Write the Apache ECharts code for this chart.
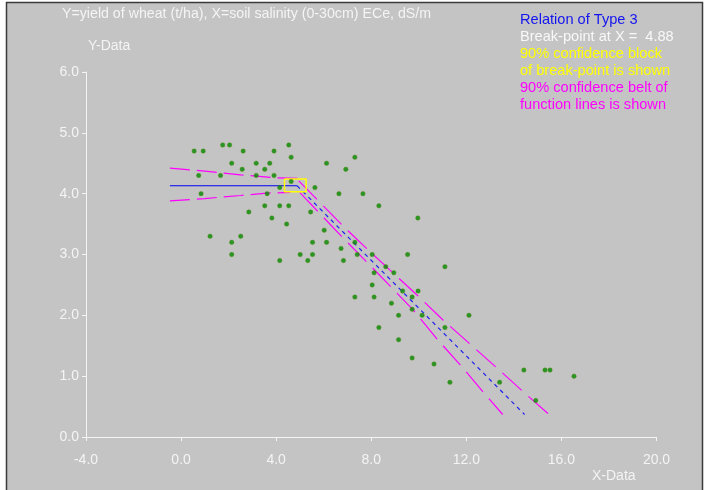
<!DOCTYPE html>
<html>
<head>
<meta charset="utf-8">
<script src="https://cdn.jsdelivr.net/npm/echarts@6/dist/echarts.min.js"></script>
<style>
  html, body { margin: 0; padding: 0; background: #ffffff; }
  #chart { width: 705px; height: 490px; }
</style>
</head>
<body>
<div id="chart"></div>
<script>
// ---- data ----
const xTicks = [-4, 0, 4, 8, 12, 16, 20];
const yTicks = [0, 1, 2, 3, 4, 5, 6];

const obsX = [0.55, 0.93, 1.75, 2.04, 2.61, 3.91, 4.53, 4.63, 2.13, 3.16, 3.73, 2.57, 3.52, 0.74, 1.66, 3.16, 3.91, 4.63, 4.15, 0.84,
              3.62, 5.63, 3.52, 4.15, 4.53, 5.45, 2.85, 3.82, 4.44, 1.22, 2.51, 2.13, 5.53, 2.13, 5.01, 5.53, 4.15, 5.33,
              7.31, 6.12, 6.93, 6.64, 7.65, 8.32, 9.96, 6.02, 6.12, 7.31, 6.73, 7.41, 8.04, 9.53, 6.83, 11.10, 8.61, 8.12,
              8.95, 8.04, 9.97, 9.32, 7.31, 8.12, 9.72, 8.85, 9.72, 9.15, 10.14, 8.32, 11.10, 9.15, 9.72, 10.64, 11.31, 12.11,
              14.42, 15.31, 15.52, 16.53, 13.40, 14.92];
const obsY = [4.7, 4.7, 4.8, 4.8, 4.7, 4.7, 4.8, 4.6, 4.5, 4.5, 4.5, 4.4, 4.4, 4.3, 4.3, 4.3, 4.3, 4.2, 4.1, 4.0,
              4.0, 4.1, 3.8, 3.8, 3.8, 3.7, 3.7, 3.6, 3.5, 3.3, 3.3, 3.2, 3.2, 3.0, 3.0, 3.0, 2.9, 2.9,
              4.6, 4.5, 4.4, 4.0, 4.0, 3.8, 3.6, 3.4, 3.2, 3.2, 3.1, 3.0, 3.0, 3.0, 2.9, 2.8, 2.8, 2.7,
              2.7, 2.5, 2.4, 2.4, 2.3, 2.3, 2.3, 2.2, 2.1, 2.0, 2.0, 1.8, 1.8, 1.6, 1.3, 1.2, 0.9, 2.0,
              1.1, 1.1, 1.1, 1.0, 0.9, 0.6];

// fitted relation (type 3): horizontal then declining
const breakX = 4.88;
const flatX = [-0.47, 4.88];
const flatY = [4.13, 4.13];
const slopeX = [4.88, 14.45];
const slopeY = [4.13, 0.37];

// 90% confidence block of break-point
const blockX = [4.35, 5.26, 5.26, 4.35, 4.35];
const blockY = [4.24, 4.24, 4.03, 4.03, 4.24];

// 90% confidence belt
const upperFlatX = [-0.47, 1.0, 2.5, 4.0, 5.2];
const upperFlatY = [4.42, 4.37, 4.31, 4.26, 4.25];
const lowerFlatX = [-0.47, 1.0, 2.5, 3.6, 4.6];
const lowerFlatY = [3.88, 3.92, 3.97, 4.01, 4.02];
const upperSlopeX = [4.95, 6.86, 8.02, 9.88, 11.03, 12.18, 13.30, 14.49, 15.45];
const upperSlopeY = [4.21, 3.45, 3.02, 2.35, 1.92, 1.52, 1.13, 0.71, 0.38];
const lowerSlopeX = [4.99, 6.82, 7.98, 9.76, 10.77, 11.80, 12.75, 13.53];
const lowerSlopeY = [4.02, 3.27, 2.81, 2.09, 1.61, 1.16, 0.72, 0.37];

const titleText = 'Y=yield of wheat (t/ha), X=soil salinity (0-30cm) ECe, dS/m';
const legendLines = [
  ['Relation of Type 3', '#1414f0'],
  ['Break-point at X =  ' + breakX.toFixed(2), '#f8f8f8'],
  ['90% confidence block', '#ffff00'],
  ['of break-point is shown', '#ffff00'],
  ['90% confidence belt of', '#ff00ff'],
  ['function lines is shown', '#ff00ff']
];

// ---- build ----
const zip = (xs, ys) => xs.map((x, i) => [x, ys[i]]);
const FONT = '"Liberation Sans", Arial, sans-serif';
const chart = echarts.init(document.getElementById('chart'), null, { renderer: 'canvas' });

const belt = (name, xs, ys, dash) => ({
  name, type: 'line', data: zip(xs, ys), showSymbol: false, symbol: 'none', silent: true,
  lineStyle: { color: '#ff00ff', width: 1.2, type: dash }, z: 3, animation: false
});

const graphics = [
  { type: 'rect', z: -10, silent: true, shape: { x: 6.5, y: 2.5, width: 696, height: 500 },
    style: { fill: '#c4c4c4', stroke: '#3a3a3a', lineWidth: 1.5 } },
  { type: 'text', left: 62, top: 7, silent: true,
    style: { text: titleText, fill: '#f4f4f4', font: '14.2px ' + FONT } },
  { type: 'text', left: 88, top: 39, silent: true,
    style: { text: 'Y-Data', fill: '#f4f4f4', font: '14px ' + FONT } },
  { type: 'text', left: 592, top: 469, silent: true,
    style: { text: 'X-Data', fill: '#f4f4f4', font: '14px ' + FONT } }
];
legendLines.forEach((l, i) => {
  graphics.push({ type: 'text', left: 520, top: 12 + i * 17, silent: true,
    style: { text: l[0], fill: l[1], font: '14.6px ' + FONT } });
});

const option = {
  backgroundColor: '#ffffff',
  animation: false,
  grid: { left: 86, right: 48.5, top: 72, bottom: 53, containLabel: false },
  xAxis: {
    type: 'value', min: xTicks[0], max: xTicks[xTicks.length - 1], interval: 4,
    axisLine: { show: true, onZero: false, lineStyle: { color: '#f4f4f4', width: 1 } },
    axisTick: { show: true, length: 4, inside: false, lineStyle: { color: '#f4f4f4' } },
    splitLine: { show: false },
    axisLabel: { color: '#f4f4f4', fontSize: 14, fontFamily: FONT, margin: 16,
      formatter: v => v.toFixed(1) }
  },
  yAxis: {
    type: 'value', min: yTicks[0], max: yTicks[yTicks.length - 1], interval: 1,
    axisLine: { show: true, onZero: false, lineStyle: { color: '#f4f4f4', width: 1 } },
    axisTick: { show: true, length: 4, inside: false, lineStyle: { color: '#f4f4f4' } },
    splitLine: { show: false },
    axisLabel: { color: '#f4f4f4', fontSize: 14, fontFamily: FONT, margin: 7,
      formatter: v => v.toFixed(1) }
  },
  graphic: graphics,
  series: [
    belt('upperFlat', upperFlatX, upperFlatY, [20, 7]),
    belt('lowerFlat', lowerFlatX, lowerFlatY, [20, 7]),
    belt('upperSlope', upperSlopeX, upperSlopeY, [26, 9]),
    belt('lowerSlope', lowerSlopeX, lowerSlopeY, [26, 9]),
    { name: 'flat', type: 'line', data: zip(flatX, flatY), showSymbol: false, symbol: 'none', silent: true,
      lineStyle: { color: '#0000f0', width: 1.2 }, z: 4 },
    { name: 'slope', type: 'line', data: zip(slopeX, slopeY), showSymbol: false, symbol: 'none', silent: true,
      lineStyle: { color: '#2020f0', width: 1.2, type: [4, 4] }, z: 4 },
    { name: 'block', type: 'line', data: zip(blockX, blockY), showSymbol: false, symbol: 'none', silent: true,
      lineStyle: { color: '#ffff00', width: 1.5 }, z: 5 },
    { name: 'obs', type: 'scatter', data: zip(obsX, obsY), symbol: 'circle', symbolSize: 4.5,
      itemStyle: { color: '#008a00', borderColor: '#5a8a10', borderWidth: 0.5 }, z: 6, silent: true }
  ]
};
chart.setOption(option);
</script>
</body>
</html>
